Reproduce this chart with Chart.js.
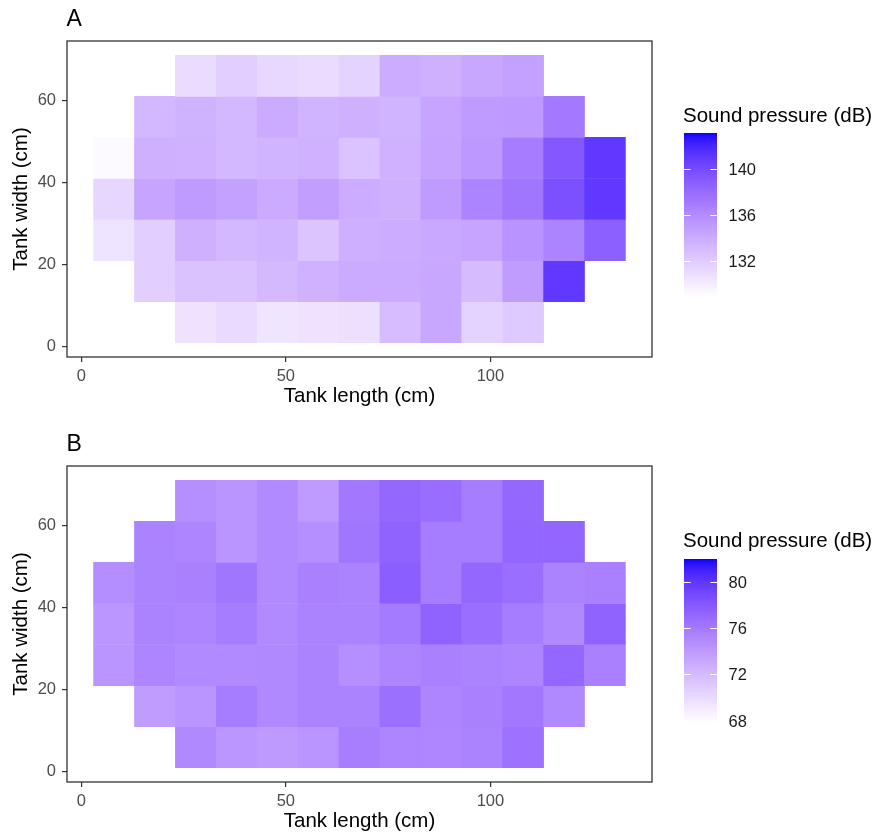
<!DOCTYPE html>
<html lang="en">
<head>
<meta charset="UTF-8">
<title>Sound pressure - tank map</title>
<script src="https://cdn.jsdelivr.net/npm/chart.js"></script>
<style>
  body { margin: 0; background: #fff; overflow: hidden; }
  .painel { position: absolute; left: 0; width: 877px; height: 420px; }
</style>
</head>
<body>

<div class="painel" style="top:0"><canvas id="graficoA" width="877" height="420"></canvas></div>
<div class="painel" style="top:425px"><canvas id="graficoB" width="877" height="420"></canvas></div>

<script>
// centros das celulas (cm)
const comprimento = [8, 18, 28, 38, 48, 58, 68, 78, 88, 98, 108, 118, 128];
const largura = [66, 56, 46, 36, 26, 16, 6];
const tamanhoCelula = 10;
const ticksX = [0, 50, 100];
const ticksY = [0, 20, 40, 60];

// painel A - pressao sonora (dB), linhas de cima para baixo
const pressaoA = [
  [null, null, 131.0, 131.8, 131.2, 131.0, 131.6, 133.9, 133.7, 134.2, 134.6, null, null],
  [null, 133.2, 133.5, 133.2, 134.0, 133.4, 133.7, 133.4, 134.4, 135.0, 135.1, 137.1, null],
  [129.2, 133.7, 133.6, 133.2, 133.4, 133.6, 132.5, 133.6, 134.5, 135.2, 136.9, 139.2, 141.0],
  [131.3, 134.4, 135.0, 134.6, 134.0, 134.8, 133.9, 133.7, 135.0, 136.4, 137.3, 139.6, 141.0],
  [130.5, 131.8, 133.7, 133.2, 133.4, 132.4, 133.8, 133.9, 134.1, 134.4, 135.5, 136.4, 138.7],
  [null, 131.8, 132.6, 132.6, 133.1, 133.6, 134.0, 134.0, 134.2, 133.0, 134.9, 141.0, null],
  [null, null, 130.6, 131.1, 130.4, 130.6, 130.7, 132.9, 134.2, 131.5, 132.1, null, null]
];
const limitesA = [128.85, 143.1];
const marcasA = [132, 136, 140];

// painel B
const pressaoB = [
  [null, null, 74.7, 74.35, 75.0, 73.9, 76.1, 77.1, 76.8, 75.8, 77.1, null, null],
  [null, 75.5, 75.3, 74.35, 75.0, 74.7, 76.2, 77.4, 75.8, 75.8, 77.2, 77.2, null],
  [74.8, 75.5, 75.6, 76.3, 75.0, 75.6, 75.5, 77.7, 75.8, 77.1, 76.7, 75.5, 75.6],
  [74.2, 75.5, 75.3, 75.8, 75.0, 75.5, 75.5, 76.0, 77.4, 76.7, 75.8, 75.1, 77.4],
  [74.35, 75.3, 75.0, 75.0, 75.1, 75.4, 74.7, 75.3, 75.6, 75.5, 75.3, 77.1, 75.6],
  [null, 73.85, 74.35, 75.8, 75.1, 75.4, 75.5, 76.6, 75.3, 75.6, 76.1, 75.1, null],
  [null, null, 75.1, 74.2, 74.0, 74.3, 75.7, 75.3, 75.2, 75.4, 76.45, null, null]
];
const limitesB = [67.8, 82.0];
const marcasB = [68, 72, 76, 80];

const fonte = '"Liberation Sans", Arial, sans-serif';

// escala de cor branco -> azul interpolada em Lab (como o ggplot)
const BRANCO = [0.95047, 1, 1.08883];
function paraLinear(c) { c /= 255; return c <= 0.04045 ? c / 12.92 : Math.pow((c + 0.055) / 1.055, 2.4); }
function paraSrgb(c) {
  c = c <= 0.0031308 ? 12.92 * c : 1.055 * Math.pow(c, 1 / 2.4) - 0.055;
  return Math.round(Math.max(0, Math.min(1, c)) * 255);
}
function rgbParaLab(r, g, b) {
  const R = paraLinear(r), G = paraLinear(g), B = paraLinear(b);
  const X = 0.4124564 * R + 0.3575761 * G + 0.1804375 * B;
  const Y = 0.2126729 * R + 0.7151522 * G + 0.0721750 * B;
  const Z = 0.0193339 * R + 0.1191920 * G + 0.9503041 * B;
  const f = t => t > 216 / 24389 ? Math.cbrt(t) : (24389 / 27 * t + 16) / 116;
  const fx = f(X / BRANCO[0]), fy = f(Y / BRANCO[1]), fz = f(Z / BRANCO[2]);
  return [116 * fy - 16, 500 * (fx - fy), 200 * (fy - fz)];
}
function labParaRgb(L, a, b) {
  const fy = (L + 16) / 116, fx = fy + a / 500, fz = fy - b / 200;
  const inv = t => t * t * t > 216 / 24389 ? t * t * t : (116 * t - 16) / (24389 / 27);
  const X = inv(fx) * BRANCO[0], Y = inv(fy) * BRANCO[1], Z = inv(fz) * BRANCO[2];
  const R = 3.2404542 * X - 1.5371385 * Y - 0.4985314 * Z;
  const G = -0.9692660 * X + 1.8760108 * Y + 0.0415560 * Z;
  const B = 0.0556434 * X - 0.2040259 * Y + 1.0572252 * Z;
  return `rgb(${paraSrgb(R)},${paraSrgb(G)},${paraSrgb(B)})`;
}
const labBaixo = rgbParaLab(255, 255, 255);
const labAlto = rgbParaLab(0, 0, 255);

function corDe(v, lo, hi) {
  const t = Math.max(0, Math.min(1, (v - lo) / (hi - lo)));
  return labParaRgb(
    labBaixo[0] + (labAlto[0] - labBaixo[0]) * t,
    labBaixo[1] + (labAlto[1] - labBaixo[1]) * t,
    labBaixo[2] + (labAlto[2] - labBaixo[2]) * t
  );
}

// moldura do painel, letra e barra de cores da legenda
const moldura = {
  id: 'moldura',
  afterDraw(chart, args, opts) {
    const { ctx, chartArea: a } = chart;
    ctx.save();

    ctx.fillStyle = '#000';
    ctx.font = '23px ' + fonte;
    ctx.textAlign = 'left';
    ctx.textBaseline = 'alphabetic';
    ctx.fillText(opts.letra, a.left - 0.5, 26);

    ctx.strokeStyle = '#333333';
    ctx.lineWidth = 1.3;
    ctx.strokeRect(a.left, a.top, a.right - a.left, a.bottom - a.top);

    const [lo, hi] = opts.limites;
    const bx = a.right + 32, by = opts.topo, bw = 33, bh = 164;
    for (let i = 0; i < bh; i++) {
      ctx.fillStyle = corDe(hi - (i + 0.5) / bh * (hi - lo), lo, hi);
      ctx.fillRect(bx, by + i, bw, 1.5);
    }

    ctx.fillStyle = '#000';
    ctx.font = '20.5px ' + fonte;
    ctx.fillText('Sound pressure (dB)', bx - 1, 121.5);

    ctx.font = '16.5px ' + fonte;
    ctx.textBaseline = 'middle';
    ctx.strokeStyle = '#fff';
    ctx.lineWidth = 1;
    opts.marcas.forEach(m => {
      const y = Math.round(by + (hi - m) / (hi - lo) * bh) + 0.5;
      ctx.beginPath();
      ctx.moveTo(bx, y); ctx.lineTo(bx + 6.6, y);
      ctx.moveTo(bx + bw - 6.6, y); ctx.lineTo(bx + bw, y);
      ctx.stroke();
      ctx.fillStyle = '#1a1a1a';
      ctx.fillText(String(m), bx + bw + 11.5, y + 1);
    });
    ctx.restore();
  }
};

function montarDatasets(pressao, limites) {
  return largura.map((yc, r) => ({
    label: 'y = ' + yc,
    data: comprimento
      .map((xc, c) => pressao[r][c] == null ? null :
        { x: xc, y: [yc - tamanhoCelula / 2, yc + tamanhoCelula / 2], dB: pressao[r][c] })
      .filter(p => p),
    backgroundColor: ctx => ctx.raw ? corDe(ctx.raw.dB, limites[0], limites[1]) : '#fff'
  }));
}

function opcoes(letra, limites, marcas, topo) {
  const grade = { offset: false, drawOnChartArea: false, drawTicks: true, tickLength: 5, color: '#333333', lineWidth: 1.2 };
  return {
    responsive: false,
    animation: false,
    layout: { padding: { left: 0, top: 41, right: 225, bottom: 0 } },
    plugins: {
      legend: { display: false },
      tooltip: { enabled: false },
      moldura: { letra, limites, marcas, topo }
    },
    datasets: { bar: { grouped: false, barPercentage: 1, categoryPercentage: 1, borderWidth: 0 } },
    scales: {
      x: {
        type: 'linear', min: -3.5, max: 139.5, offset: false,
        grid: grade, border: { display: false },
        afterBuildTicks: s => { s.ticks = ticksX.map(v => ({ value: v })); },
        afterFit: s => { s.height = 63; },
        ticks: { color: '#4D4D4D', font: { size: 16.5, family: fonte }, padding: 5, maxRotation: 0 },
        title: { display: true, text: 'Tank length (cm)', color: '#000', font: { size: 20.5, family: fonte }, padding: { top: 0, bottom: 11 } }
      },
      y: {
        type: 'linear', min: -2.5, max: 74.5, offset: false,
        grid: grade, border: { display: false },
        afterBuildTicks: s => { s.ticks = ticksY.map(v => ({ value: v })); },
        afterFit: s => { s.width = 67; },
        ticks: { color: '#4D4D4D', font: { size: 16.5, family: fonte }, padding: 6 },
        title: { display: true, text: 'Tank width (cm)', color: '#000', font: { size: 20.5, family: fonte }, padding: { top: 9, bottom: 0 } }
      }
    }
  };
}

new Chart(document.getElementById('graficoA'), {
  type: 'bar',
  data: { datasets: montarDatasets(pressaoA, limitesA) },
  options: opcoes('A', limitesA, marcasA, 133),
  plugins: [moldura]
});

new Chart(document.getElementById('graficoB'), {
  type: 'bar',
  data: { datasets: montarDatasets(pressaoB, limitesB) },
  options: opcoes('B', limitesB, marcasB, 134),
  plugins: [moldura]
});
</script>
</body>
</html>
